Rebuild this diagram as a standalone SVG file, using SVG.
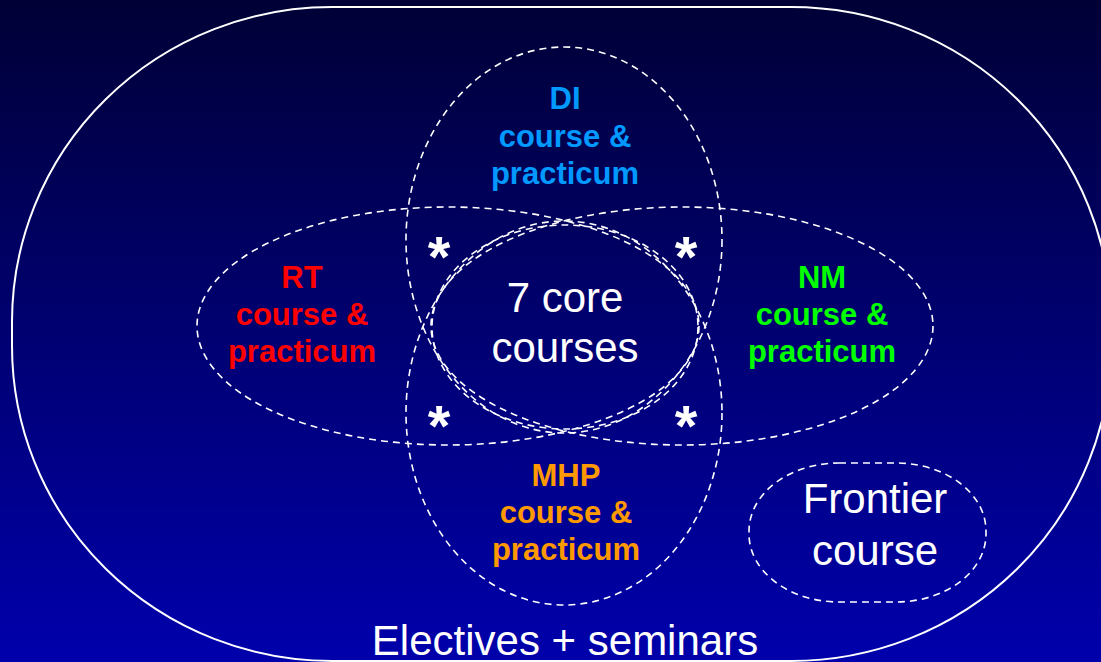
<svg xmlns="http://www.w3.org/2000/svg" width="1101" height="662" viewBox="0 0 1101 662">
  <defs>
    <linearGradient id="bg" x1="0" y1="0" x2="0" y2="1">
      <stop offset="0" stop-color="#000036"/>
      <stop offset="1" stop-color="#0000AC"/>
    </linearGradient>
  </defs>
  <style>
    .dash { fill: none; stroke: #FFFFFF; stroke-width: 1.6; stroke-dasharray: 7 5; }
    .solid { fill: none; stroke: #FFFFFF; stroke-width: 2; }
    .lbl { font-family: "Liberation Sans", Arial, sans-serif; font-weight: bold; font-size: 31px; text-anchor: middle; }
    .wt { font-family: "Liberation Sans", Arial, sans-serif; font-size: 42px; fill: #FFFFFF; text-anchor: middle; }
    .ast { font-family: "Liberation Sans", Arial, sans-serif; font-weight: bold; font-size: 58px; fill: #FFFFFF; text-anchor: middle; }
  </style>
  <rect x="0" y="0" width="1101" height="662" fill="url(#bg)"/>

  <g id="electives">
    <rect class="solid" x="12" y="7" width="1099" height="654" rx="320" ry="315"/>
    <text class="wt" x="565" y="655">Electives + seminars</text>
  </g>

  <g id="di">
    <ellipse class="dash" cx="564" cy="240" rx="158" ry="193"/>
    <text class="lbl" fill="#0099FF" x="565" y="109">DI</text>
    <text class="lbl" fill="#0099FF" x="565" y="147">course &amp;</text>
    <text class="lbl" fill="#0099FF" x="565" y="184">practicum</text>
  </g>

  <g id="mhp">
    <ellipse class="dash" cx="564" cy="413" rx="158" ry="192"/>
    <text class="lbl" fill="#FF9900" x="566" y="486">MHP</text>
    <text class="lbl" fill="#FF9900" x="566" y="523">course &amp;</text>
    <text class="lbl" fill="#FF9900" x="566" y="560">practicum</text>
  </g>

  <g id="rt">
    <ellipse class="dash" cx="448" cy="326" rx="251" ry="119"/>
    <text class="lbl" fill="#FF0000" x="302" y="288">RT</text>
    <text class="lbl" fill="#FF0000" x="302" y="325">course &amp;</text>
    <text class="lbl" fill="#FF0000" x="302" y="362">practicum</text>
  </g>

  <g id="nm">
    <ellipse class="dash" cx="682" cy="326" rx="251" ry="119"/>
    <text class="lbl" fill="#00FF00" x="822" y="288">NM</text>
    <text class="lbl" fill="#00FF00" x="822" y="325">course &amp;</text>
    <text class="lbl" fill="#00FF00" x="822" y="362">practicum</text>
  </g>

  <g id="core">
    <ellipse class="dash" cx="565" cy="327" rx="133" ry="102"/>
    <text class="wt" x="565" y="312">7 core</text>
    <text class="wt" x="565" y="362">courses</text>
  </g>

  <g id="frontier">
    <rect class="dash" x="749" y="463" width="237" height="139" rx="90" ry="68"/>
    <text class="wt" x="875" y="513">Frontier</text>
    <text class="wt" x="875" y="565">course</text>
  </g>

  <g id="asterisks">
    <text class="ast" x="439" y="277">*</text>
    <text class="ast" x="686" y="277">*</text>
    <text class="ast" x="439" y="446">*</text>
    <text class="ast" x="686" y="446">*</text>
  </g>

  <g id="connectors"/>
</svg>
